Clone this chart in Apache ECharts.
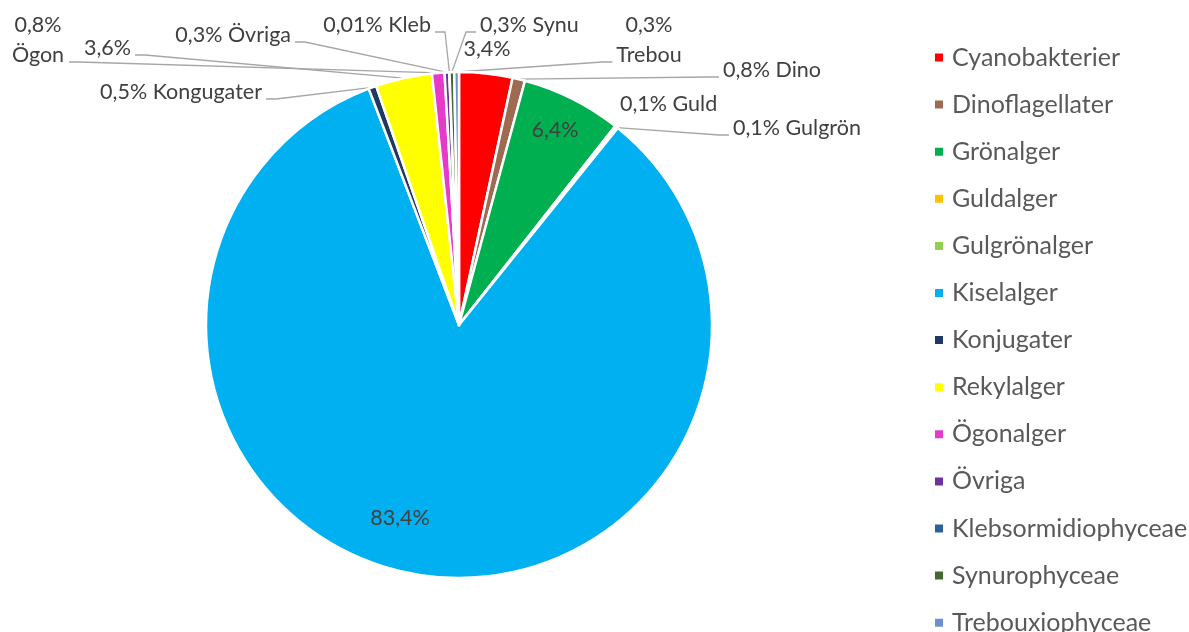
<!DOCTYPE html>
<html>
<head>
<meta charset="utf-8">
<style>
  html, body { margin: 0; padding: 0; background: #ffffff; }
  #chart { width: 1189px; height: 632px; }
</style>
<script src="https://cdn.jsdelivr.net/npm/echarts@6/dist/echarts.min.js"></script>
</head>
<body>
<div id="chart"></div>
<script>
// Algal groups, share of total biovolume (%)
const categories = [
  'Cyanobakterier', 'Dinoflagellater', 'Grönalger', 'Guldalger', 'Gulgrönalger',
  'Kiselalger', 'Konjugater', 'Rekylalger', 'Ögonalger', 'Övriga',
  'Klebsormidiophyceae', 'Synurophyceae', 'Trebouxiophyceae'
];
const shares = [3.4, 0.8, 6.4, 0.1, 0.1, 83.4, 0.5, 3.6, 0.8, 0.3, 0.01, 0.3, 0.3];
// Short names written next to the percentage on the slice labels
const shortNames = ['', 'Dino', '', 'Guld', 'Gulgrön', '', 'Kongugater', '', 'Ögon', 'Övriga', 'Kleb', 'Synu', 'Trebou'];

const colors = [
  '#FF0000', '#9E6A52', '#00B050', '#FFC000', '#92D050',
  '#00B0F0', '#1F3864', '#FFFF00', '#E63BC8', '#7030A0',
  '#2A6199', '#44692C', '#6A90D0'
];

// Label placement: anchor point, alignment, two-line wrap and whether a leader line is drawn
const LABEL_LH = 30;
const spots = [
  { x: 487, y: 49,  align: 'center' },
  { x: 723, y: 70,  align: 'left',   lead: true },
  { x: 555, y: 130, align: 'center' },
  { x: 620, y: 104, align: 'left' },
  { x: 733, y: 128, align: 'left',   lead: true },
  { x: 400, y: 518, align: 'center' },
  { x: 262, y: 92,  align: 'right',  lead: true },
  { x: 131, y: 48,  align: 'right',  lead: true },
  { x: 38,  y: 40,  align: 'center', lead: true, wrap: true, side: 'right' },
  { x: 291, y: 35,  align: 'right',  lead: true },
  { x: 431, y: 25,  align: 'right',  lead: true },
  { x: 480, y: 25,  align: 'left',   lead: true },
  { x: 649, y: 40,  align: 'center', lead: true, wrap: true, side: 'left' }
];

function pct(v) {
  return String(v).replace('.', ',') + '%';
}

const chart = echarts.init(document.getElementById('chart'), null, { renderer: 'canvas' });

const option = {
  animation: false,
  backgroundColor: '#ffffff',
  color: colors,
  legend: {
    orient: 'vertical',
    left: 933,
    top: 45,
    height: 700,
    padding: 0,
    itemWidth: 10,
    itemHeight: 10,
    itemGap: 22.1,
    icon: 'rect',
    selectedMode: false,
    data: categories,
    textStyle: {
      fontFamily: 'Lato',
      fontSize: 25,
      lineHeight: 24,
      color: '#595959',
      padding: [0, 0, 0, 3]
    }
  },
  series: [{
    type: 'pie',
    center: [459, 325],
    radius: 253,
    startAngle: 90,
    clockwise: true,
    avoidLabelOverlap: false,
    emphasis: { disabled: true },
    itemStyle: { borderColor: '#ffffff', borderWidth: 2.5 },
    label: {
      show: true,
      position: 'outside',
      fontFamily: 'Lato',
      fontSize: 21.5,
      lineHeight: LABEL_LH,
      color: '#404040',
      formatter: function (p) {
        const n = shortNames[p.dataIndex];
        const v = pct(p.value);
        if (!n) return v;
        return v + (spots[p.dataIndex].wrap ? '\n' : ' ') + n;
      }
    },
    labelLine: {
      show: true,
      length: 10,
      length2: 10,
      lineStyle: { color: '#A6A6A6', width: 1.3 }
    },
    labelLayout: function (p) {
      const s = spots[p.dataIndex];
      const out = { x: s.x, y: s.y, align: s.align, verticalAlign: 'middle' };
      if (s.lead && p.labelLinePoints) {
        const start = p.labelLinePoints[0];
        const w = p.labelRect.width;
        let endX, endY, dir;
        if (s.align === 'right') { endX = s.x + 4; dir = 1; }
        else if (s.align === 'left') { endX = s.x - 4; dir = -1; }
        else if (s.side === 'right') { endX = s.x + w / 2 + 5; dir = 1; }
        else { endX = s.x - w / 2 - 4; dir = -1; }
        endY = s.y + (s.wrap ? LABEL_LH / 2 : 0) + 7;
        const knee = [endX + dir * 10, endY];
        out.labelLinePoints = [[start[0], start[1]], knee, [endX, endY]];
      }
      return out;
    },
    data: categories.map(function (name, i) {
      const item = { name: name, value: shares[i] };
      if (!spots[i].lead) item.labelLine = { show: false };
      return item;
    })
  }]
};

chart.setOption(option);
</script>
</body>
</html>
